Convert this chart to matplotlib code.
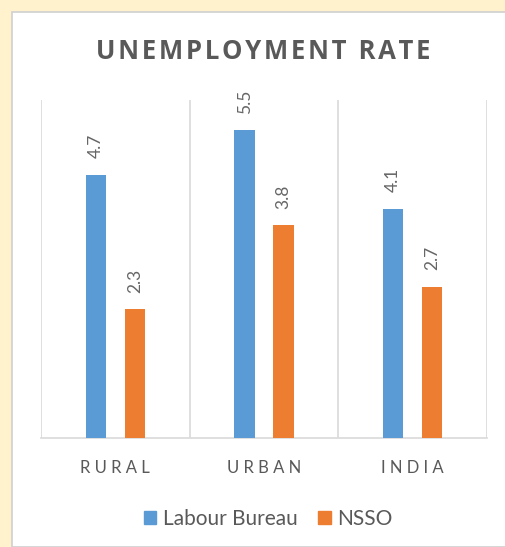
import numpy as np
import matplotlib.pyplot as plt
from matplotlib.patches import Rectangle, Patch

plt.rcParams['font.family'] = ['Lato', 'DejaVu Sans']

categories = ['RURAL', 'URBAN', 'INDIA']
labour_bureau = [4.7, 5.5, 4.1]
nsso = [2.3, 3.8, 2.7]
series_names = ['Labour Bureau', 'NSSO']

blue = '#5B9BD5'
orange = '#ED7D31'
txt = '#595959'
grid = '#D9D9D9'

fig = plt.figure(figsize=(5.05, 5.47), dpi=100)
fig.patch.set_facecolor('#FFF2CC')
# white chart panel with a thin grey edge
fig.patches.append(Rectangle((12/505, 0), 1, 1 - 12/547, transform=fig.transFigure,
                             facecolor='white', edgecolor='#D0D0D0', linewidth=1.2, zorder=-10))

ax = fig.add_axes([41/505, 109/547, 446/505, 338/547])
ax.set_facecolor('none')

x = np.arange(len(categories))
w = 0.135
off = 0.131
b1 = ax.bar(x - off, labour_bureau, w, color=blue, zorder=3)
b2 = ax.bar(x + off, nsso, w, color=orange, zorder=3)

for bars, vals in ((b1, labour_bureau), (b2, nsso)):
    for r, v in zip(bars, vals):
        ax.annotate(f'{v}', (r.get_x() + r.get_width()/2, v), xytext=(0, 12),
                    textcoords='offset points', rotation=90, ha='center', va='bottom',
                    fontsize=12.5, color='#666666')

ax.set_xlim(-0.5, 2.5)
ax.set_ylim(0, 6.04)
for xb in [-0.5, 0.5, 1.5, 2.5]:
    ax.axvline(xb, color=grid, lw=1.2, zorder=1)
for s in ['top', 'right', 'left']:
    ax.spines[s].set_visible(False)
ax.spines['bottom'].set_color(grid)
ax.spines['bottom'].set_linewidth(1.2)
ax.set_yticks([])
ax.set_xticks(x)
ax.set_xticklabels([' '.join(c) for c in categories], fontsize=12, color=txt)
ax.tick_params(axis='x', length=0, pad=16)

fig.text(263/505, 1 - 51.5/547, '\u200a'.join('UNEMPLOYMENT RATE'), ha='center', va='center',
         fontsize=18.5, fontweight='bold', color=txt, family=['Open Sans', 'DejaVu Sans'])

handles = [Patch(color=blue), Patch(color=orange)]
fig.legend(handles, series_names, loc='center', bbox_to_anchor=(268/505, 28/547), ncol=2,
           frameon=False, fontsize=15, labelcolor=txt, handlelength=0.6, handleheight=0.6,
           handletextpad=0.3, columnspacing=1.0)

fig.savefig('out.png', dpi=100)
